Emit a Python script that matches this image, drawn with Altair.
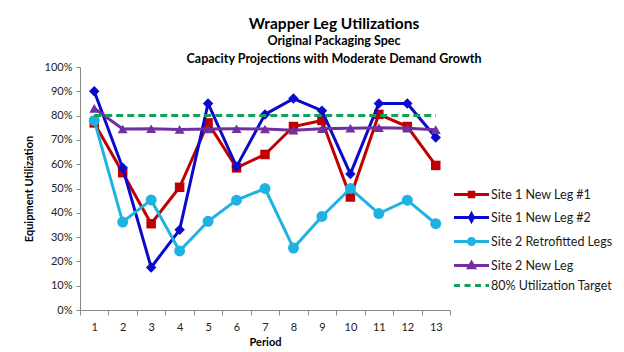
import altair as alt
import pandas as pd

periods = [1, 2, 3, 4, 5, 6, 7, 8, 9, 10, 11, 12, 13]
series_names = ["Site 1 New Leg #1", "Site 1 New Leg #2", "Site 2 Retrofitted Legs",
                "Site 2 New Leg", "80% Utilization Target"]
site1_leg1 = [0.77, 0.565, 0.355, 0.505, 0.77, 0.585, 0.64, 0.755, 0.78, 0.465, 0.805, 0.755, 0.595]
site1_leg2 = [0.90, 0.585, 0.175, 0.33, 0.85, 0.59, 0.805, 0.87, 0.82, 0.56, 0.85, 0.85, 0.71]
site2_retro = [0.78, 0.362, 0.453, 0.243, 0.365, 0.452, 0.50, 0.255, 0.385, 0.50, 0.397, 0.452, 0.355]
site2_new = [0.83, 0.745, 0.746, 0.743, 0.745, 0.746, 0.745, 0.74, 0.746, 0.748, 0.75, 0.748, 0.742]
target = [0.80, 0.80, 0.80, 0.80, 0.80, 0.80, 0.80, 0.80, 0.80, 0.80, 0.80, 0.80, 0.80]

colors = ["#C00000", "#0A0ACC", "#1EB2E2", "#7030A0", "#12A05A"]
marker_shapes = ["square", "diamond", "circle", "triangle-up"]
marker_sizes = [90, 110, 120, 100]
# legend symbols: a short line with the series marker (symbol units: 1 = 5px)
legend_paths = [
    "M-3.5,0H3.5M-0.45,-0.45H0.45V0.45H-0.45Z",
    "M-3.5,0H3.5M0,-0.7L0.38,0L0,0.7L-0.38,0Z",
    "M-3.5,0H3.5M-0.6,0A0.6,0.6 0 1,0 0.6,0A0.6,0.6 0 1,0 -0.6,0Z",
    "M-3.5,0H3.5M0,-0.6L0.6,0.45L-0.6,0.45Z",
    "M-3.5,0H-2.3M-1.4,0H-0.2M0.7,0H1.9M2.8,0H3.5",
]

all_series = [site1_leg1, site1_leg2, site2_retro, site2_new, target]
rows = []
for name, vals in zip(series_names, all_series):
    for p, v in zip(periods, vals):
        rows.append({"period": p, "series": name, "value": v})
df = pd.DataFrame(rows)

FONT = "Lato"

x = alt.X("period:O",
          scale=alt.Scale(type="band", paddingInner=0, paddingOuter=0),
          axis=alt.Axis(title="Period", labelAngle=0, tickBand="extent",
                        labelPadding=6, titlePadding=4))
y = alt.Y("value:Q",
          scale=alt.Scale(domain=[0, 1]),
          axis=alt.Axis(title="Equipment Utilization", format=".0%",
                        values=[0, 0.1, 0.2, 0.3, 0.4, 0.5, 0.6, 0.7, 0.8, 0.9, 1.0],
                        grid=False, tickSize=4, labelPadding=4, titlePadding=10))

base = alt.Chart(df)

layers = []
for i in range(4):
    sub = base.transform_filter(alt.datum.series == series_names[i])
    layers.append(sub.mark_line(strokeWidth=3, color=colors[i]).encode(x=x, y=y))
    layers.append(sub.mark_point(filled=True, opacity=1, shape=marker_shapes[i],
                                 size=marker_sizes[i], color=colors[i]).encode(x=x, y=y))

layers.append(base.transform_filter(alt.datum.series == series_names[4]).mark_line(
    strokeWidth=3, strokeDash=[7, 4], color=colors[4]).encode(x=x, y=y))

leg = alt.Legend(title=None, orient="none", legendX=385, legendY=121,
                 symbolSize=100, symbolStrokeWidth=3, labelFont=FONT,
                 labelFontSize=12.5, labelColor="#1a1a1a", rowPadding=5,
                 labelOffset=13, symbolOffset=0, padding=0)

legend_layer = base.transform_filter(alt.datum.period == 1).mark_point(
    filled=True, opacity=1, size=0).encode(
    x=x, y=y,
    shape=alt.Shape("series:N", scale=alt.Scale(domain=series_names, range=legend_paths),
                    legend=leg),
    fill=alt.Fill("series:N", scale=alt.Scale(domain=series_names, range=colors), legend=leg),
    stroke=alt.Stroke("series:N", scale=alt.Scale(domain=series_names, range=colors), legend=leg),
)
layers.append(legend_layer)

chart = alt.layer(*layers).properties(
    width=370, height=243,
    autosize=alt.AutoSizeParams(type="none"),
    padding={"left": 80, "top": 67, "right": 174, "bottom": 42},
    background="white",
    title=alt.TitleParams(
        text="Wrapper Leg Utilizations",
        subtitle=["Original Packaging Spec", "Capacity Projections with Moderate Demand Growth"],
        anchor="middle", dx=69, offset=-4,
        font=FONT, fontSize=15.5, fontWeight="bold", color="#000000",
        subtitleFont=FONT, subtitleFontSize=12.5, subtitleFontWeight="bold",
        subtitleColor="#000000", subtitleLineHeight=18, subtitlePadding=2,
    ),
).configure_view(stroke=None).configure_axis(
    domainColor="#888888", tickColor="#888888", domainWidth=1,
    labelFont=FONT, labelFontSize=11, labelColor="#222222",
    titleFont=FONT, titleFontSize=11, titleFontWeight="bold", titleColor="#000000",
)

chart.save("out.html", embed_options={"renderer": "svg", "actions": False})
